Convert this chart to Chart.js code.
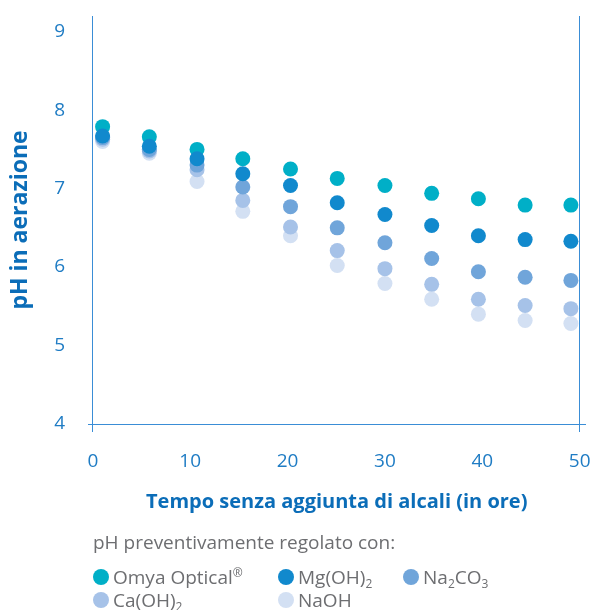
<!DOCTYPE html>
<html>
<head>
<meta charset="utf-8">
<script src="https://cdn.jsdelivr.net/npm/chart.js@4/dist/chart.umd.min.js"></script>
<style>
  html, body { margin: 0; padding: 0; background: #ffffff; }
  #wrap { position: relative; width: 593px; height: 610px; }
  #c { position: absolute; left: 0; top: 0; }
  #legend { position: absolute; left: 93px; top: 531px; font-family: "Open Sans", sans-serif; color: #6d6e71; }
  #legend .ttl { font-size: 19px; line-height: 22px; height: 22px; white-space: nowrap; }
  #legend .grid { display: grid; grid-template-columns: 185px 125px auto; margin-top: 12px; }
  #legend .item { display: flex; align-items: center; height: 23px; font-size: 19px; white-space: nowrap; }
  #legend .dot { width: 16px; height: 16px; border-radius: 50%; margin-right: 4px; flex: none; }
  #legend sub { font-size: 12px; vertical-align: -4px; line-height: 0; }
  #legend sup { font-size: 12px; vertical-align: 7px; line-height: 0; }
</style>
</head>
<body>
<div id="wrap">
  <canvas id="c" width="593" height="610"></canvas>
  <div id="legend"></div>
</div>
<script>
// ---- data ----
const xValues = [1, 5.8, 10.7, 15.4, 20.3, 25.1, 30, 34.8, 39.6, 44.4, 49.1];
const omyaOptical = [7.79, 7.66, 7.50, 7.38, 7.25, 7.13, 7.04, 6.94, 6.87, 6.79, 6.79];
const mgOH2 = [7.67, 7.54, 7.38, 7.19, 7.04, 6.82, 6.67, 6.53, 6.40, 6.35, 6.33];
const na2CO3 = [7.65, 7.50, 7.30, 7.02, 6.77, 6.50, 6.31, 6.11, 5.94, 5.87, 5.83];
const caOH2 = [7.63, 7.48, 7.24, 6.85, 6.51, 6.21, 5.98, 5.78, 5.59, 5.51, 5.47];
const naOH = [7.60, 7.45, 7.09, 6.71, 6.40, 6.02, 5.79, 5.59, 5.40, 5.32, 5.28];
const xTicks = [0, 10, 20, 30, 40, 50];
const yTicks = [4, 5, 6, 7, 8, 9];
const seriesLabels = ['Omya Optical<sup>®</sup>', 'Mg(OH)<sub>2</sub>', 'Na<sub>2</sub>CO<sub>3</sub>', 'Ca(OH)<sub>2</sub>', 'NaOH'];
const seriesValues = [omyaOptical, mgOH2, na2CO3, caOH2, naOH];
const seriesColors = ['#00afc7', '#1189cd', '#70a5da', '#a6c2e8', '#d3e0f3'];
const drawOrder = [1, 0, 2, 3, 4];
const xTitle = 'Tempo senza aggiunta di alcali (in ore)';
const yTitle = 'pH in aerazione';
const legendTitle = 'pH preventivamente regolato con:';

const axisColor = '#3a8dd6';
const tickColor = '#1f7cc4';
const titleColor = '#0b6db8';

const datasets = seriesValues.map((vals, i) => ({
  label: seriesLabels[i].replace(/<[^>]+>/g, ''),
  data: vals.map((v, k) => ({ x: xValues[k], y: v })),
  backgroundColor: seriesColors[i],
  borderColor: seriesColors[i],
  borderWidth: 0,
  pointRadius: 7.5,
  pointHoverRadius: 7.5,
  showLine: false,
  order: drawOrder[i]
}));

new Chart(document.getElementById('c'), {
  type: 'scatter',
  data: { datasets },
  options: {
    responsive: false,
    animation: false,
    devicePixelRatio: 1,
    layout: { padding: { top: 16, right: 6, left: 0, bottom: 0 } },
    plugins: { legend: { display: false }, tooltip: { enabled: false } },
    scales: {
      x: {
        type: 'linear',
        min: -0.5,
        max: 50.6,
        afterBuildTicks: (s) => { s.ticks = xTicks.map(v => ({ value: v })); },
        afterFit: (s) => { s.height = 186; s.paddingLeft = 0; s.paddingRight = 0; },
        ticks: { color: tickColor, font: { family: 'Open Sans', size: 19 }, padding: 18, maxRotation: 0 },
        grid: {
          drawOnChartArea: true,
          drawTicks: true,
          tickLength: 8,
          lineWidth: 1,
          color: (ctx) => (ctx.tick && (ctx.tick.value === xTicks[0] || ctx.tick.value === xTicks[xTicks.length - 1])) ? axisColor : 'rgba(0,0,0,0)'
        },
        border: { display: true, color: axisColor, width: 1 },
        title: { display: true, text: xTitle, color: titleColor, font: { family: 'Open Sans', size: 20, weight: 'bold' }, padding: { top: 0, bottom: 96 } }
      },
      y: {
        type: 'linear',
        min: 4,
        max: 9.2,
        afterBuildTicks: (s) => { s.ticks = yTicks.map(v => ({ value: v })); },
        afterFit: (s) => { s.width = 88; s.paddingTop = 0; s.paddingBottom = 0; },
        ticks: { color: tickColor, font: { family: 'Open Sans', size: 19 }, padding: 23 },
        grid: { display: false, drawTicks: false },
        border: { display: false },
        title: { display: true, text: yTitle, color: titleColor, font: { family: 'Open Sans', size: 23, weight: 'bold' }, padding: { top: 7, bottom: 0 } }
      }
    }
  }
});

// ---- HTML legend ----
const lg = document.getElementById('legend');
const t = document.createElement('div');
t.className = 'ttl';
t.textContent = legendTitle;
lg.appendChild(t);
const g = document.createElement('div');
g.className = 'grid';
seriesLabels.forEach((lab, i) => {
  const it = document.createElement('div');
  it.className = 'item';
  const d = document.createElement('span');
  d.className = 'dot';
  d.style.background = seriesColors[i];
  const s = document.createElement('span');
  s.innerHTML = lab;
  it.appendChild(d);
  it.appendChild(s);
  g.appendChild(it);
});
lg.appendChild(g);
</script>
</body>
</html>
